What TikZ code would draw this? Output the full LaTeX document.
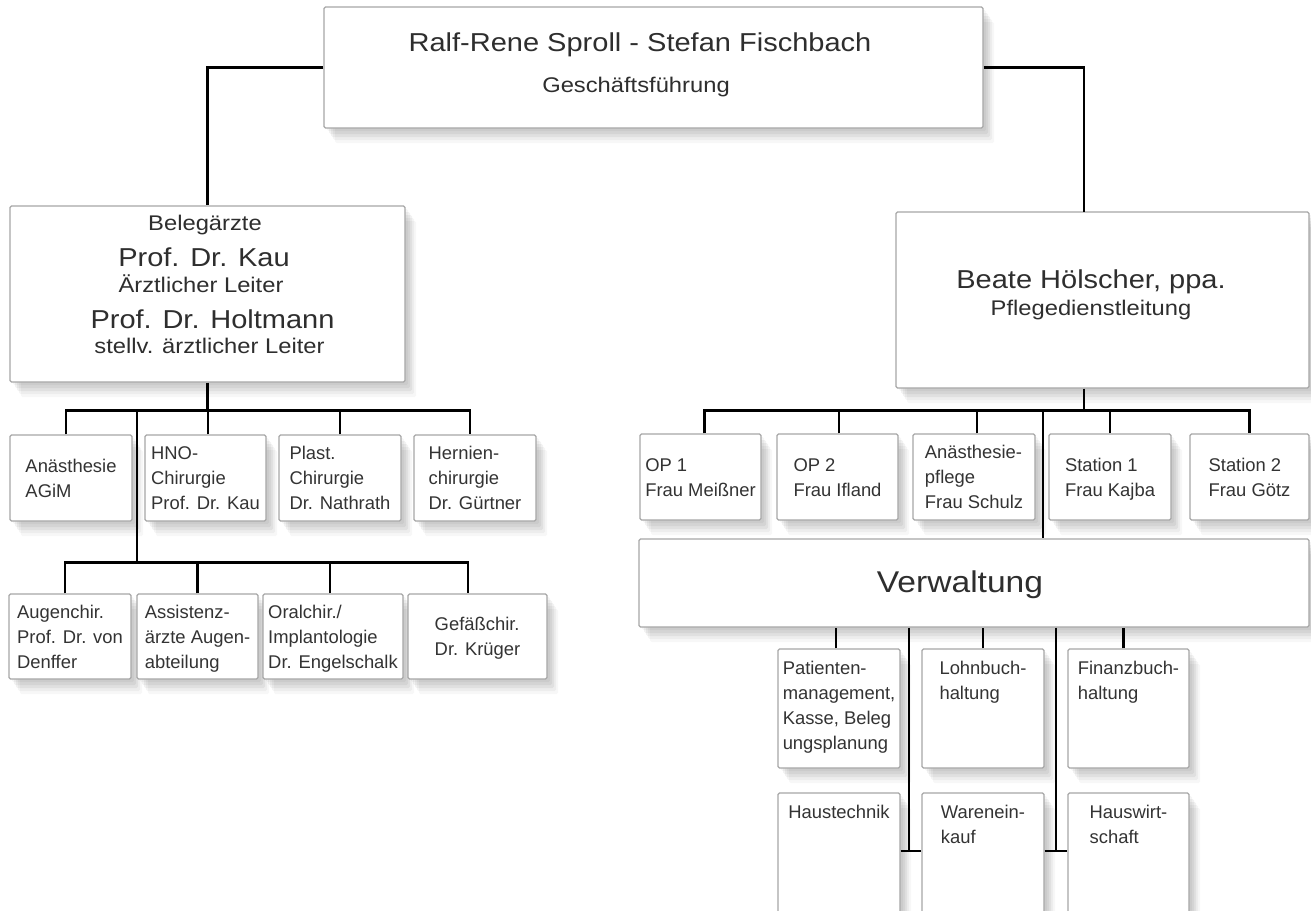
\documentclass[tikz,border=0pt]{standalone}
\usepackage{fontspec}
\setmainfont{Liberation Sans}
\newfontfamily\widefont[FakeStretch=1.12]{Liberation Sans}
\usetikzlibrary{shadows}
\newcommand\mylines[1]{\begin{tabular}{@{}l@{}}#1\end{tabular}}
\newcommand\mybox[6]{\node[box,minimum width={(#4)-(#2)},minimum height={(#5)-(#3)}] (#1) at ({((#2)+(#4))/2},{((#3)+(#5))/2}) {#6};}
\begin{document}
\begin{tikzpicture}[x=1pt,y=-1pt,
  shd/.style={drop shadow={shadow xshift=11pt,shadow yshift=-15pt,fill=black,opacity=0.03},
              drop shadow={shadow xshift=9pt,shadow yshift=-12pt,fill=black,opacity=0.04},
              drop shadow={shadow xshift=7pt,shadow yshift=-9pt,fill=black,opacity=0.05},
              drop shadow={shadow xshift=5pt,shadow yshift=-6pt,fill=black,opacity=0.05},
              drop shadow={shadow xshift=3pt,shadow yshift=-3pt,fill=black,opacity=0.04}},
  sml/.style={font=\fontsize{18.4}{25}\selectfont\setbox\strutbox\hbox{\vrule height 19pt depth 6pt width 0pt}},
  box/.style={rectangle,rounded corners=1.5pt,draw=black!35,line width=1.3pt,fill=white,inner sep=0pt,shd,sml,text=black!80},
  big/.style={font=\widefont\fontsize{25.9}{30}\selectfont,text=black!82,inner sep=0pt},
  mid/.style={font=\widefont\fontsize{21.2}{25}\selectfont,text=black!82,inner sep=0pt},
  huge/.style={font=\widefont\fontsize{30}{36}\selectfont,text=black!82,inner sep=0pt},
  toptext/.style={sml,text=black!80,inner sep=0pt,anchor=north},
  conn/.style={draw=black,line width=2.6pt}]
\path[use as bounding box,fill=white] (0,0) rectangle (1311,910);
\clip (0,0) rectangle (1311,910);

% ---- boxes ----
\mybox{top}{324}{7}{983}{128}{}
\node[big,anchor=base] (t1) at (640,51) {Ralf-Rene Sproll - Stefan Fischbach};
\node[mid,anchor=base] (t2) at (636,92) {Geschäftsführung};

\mybox{beleg}{10}{206}{405}{382}{}
\node[mid,anchor=base] (b1) at (205,230) {Belegärzte};
\node[big,anchor=base] (b2) at (204,266) {Prof. Dr. Kau};
\node[mid,anchor=base] (b3) at (201,292) {Ärztlicher Leiter};
\node[big,anchor=base] (b4) at (212.5,328) {Prof. Dr. Holtmann};
\node[mid,anchor=base] (b5) at (209.5,353) {stellv. ärztlicher Leiter};

\mybox{beate}{896}{212}{1309}{388}{}
\node[big,anchor=base] (p1) at (1091,288) {Beate Hölscher, ppa.};
\node[mid,anchor=base] (p2) at (1091,315) {Pflegedienstleitung};

\mybox{anae}{10}{435}{132}{521}{\mylines{Anästhesie\\AGiM}}
\mybox{hno}{145}{435}{266}{521}{\mylines{HNO-\\Chirurgie\\Prof. Dr. Kau}}
\mybox{plast}{279}{435}{401}{521}{\mylines{Plast.\\Chirurgie\\Dr. Nathrath}}
\mybox{hern}{414}{435}{536}{521}{\mylines{Hernien-\\chirurgie\\Dr. Gürtner}}

\mybox{auge}{9}{594}{131}{679}{\mylines{Augenchir.\\Prof. Dr. von\\Denffer}}
\mybox{assi}{137}{594}{258}{679}{\mylines{Assistenz-\\ärzte Augen-\\abteilung}}
\mybox{oral}{263}{594}{403}{679}{\mylines{Oralchir./\\Implantologie\\Dr. Engelschalk}}
\mybox{gefa}{408}{594}{547}{679}{\mylines{Gefäßchir.\\Dr. Krüger}}

\mybox{op1}{640}{434}{761}{520}{\mylines{OP 1\\Frau Meißner}}
\mybox{op2}{777}{434}{898}{520}{\mylines{OP 2\\Frau Ifland}}
\mybox{anp}{913}{434}{1035}{520}{\mylines{Anästhesie-\\pflege\\Frau Schulz}}
\mybox{st1}{1049}{434}{1171}{520}{\mylines{Station 1\\Frau Kajba}}
\mybox{st2}{1190}{434}{1309}{520}{\mylines{Station 2\\Frau Götz}}

\mybox{verw}{639}{539}{1309}{627}{}
\node[huge,anchor=base] (vt) at (960,592) {Verwaltung};

\mybox{pat}{778}{649}{900}{768}{}
\mybox{lohn}{922}{649}{1044}{768}{}
\mybox{fin}{1068}{649}{1189}{768}{}
\mybox{haus}{778}{793}{900}{950}{}
\mybox{ware}{922}{793}{1044}{950}{}
\mybox{hw}{1068}{793}{1189}{950}{}
\node[toptext] (patt) at ([yshift=-7pt]pat.north) {\mylines{Patienten-\\management,\\Kasse, Beleg\\ungsplanung}};
\node[toptext] (lohnt) at ([yshift=-7pt]lohn.north) {\mylines{Lohnbuch-\\haltung}};
\node[toptext] (fint) at ([yshift=-7pt]fin.north) {\mylines{Finanzbuch-\\haltung}};
\node[toptext] (haust) at ([yshift=-7pt]haus.north) {\mylines{Haustechnik}};
\node[toptext] (waret) at ([yshift=-7pt]ware.north) {\mylines{Warenein-\\kauf}};
\node[toptext] (hwt) at ([yshift=-7pt]hw.north) {\mylines{Hauswirt-\\schaft}};

% ---- connectors ----
\coordinate (rj) at (1084,212);
\coordinate (lv1) at (137,411);
\coordinate (lv2) at (137,563);
\coordinate (rv) at (1043,411);
\coordinate (tA) at (909,851);
\coordinate (tB) at (1056,851);

\draw[conn] (top.west) -| (beleg.north);
\draw[conn] (top.east) -| (rj);

\draw[conn] (beleg.south) -- ++(0,29);
\draw[conn] ([xshift=-5pt]anae.north) -- ++(0,-24) -| ([xshift=-5pt]hern.north);
\draw[conn] ([xshift=2.5pt]hno.north) -- ++(0,-24);
\draw[conn] (plast.north) -- ++(0,-24);
\draw[conn] (lv1) -- (lv2);
\draw[conn] ([xshift=-5pt]auge.north) -- ++(0,-31) -| ([xshift=-9.5pt]gefa.north);
\draw[conn] (assi.north) -- ++(0,-31);
\draw[conn] ([xshift=-3pt]oral.north) -- ++(0,-31);

\draw[conn] (beate.south -| rj) -- ++(0,23);
\draw[conn] ([xshift=4pt]op1.north) -- ++(0,-23) -| (st2.north);
\draw[conn] ([xshift=1.5pt]op2.north) -- ++(0,-23);
\draw[conn] ([xshift=3pt]anp.north) -- ++(0,-23);
\draw[conn] (st1.north) -- ++(0,-23);
\draw[conn] (rv) -- (rv |- verw.north);

\draw[conn] ([xshift=-3pt]pat.north) -- ([xshift=-3pt]pat.north |- verw.south);
\draw[conn] (lohn.north) -- (lohn.north |- verw.south);
\draw[conn] ([xshift=-5pt]fin.north) -- ([xshift=-5pt]fin.north |- verw.south);
\draw[conn] (tA |- verw.south) -- (tA);
\draw[conn] (tA -| haus.east) -- (tA -| ware.west);
\draw[conn] (tB |- verw.south) -- (tB);
\draw[conn] (tB -| ware.east) -- (tB -| hw.west);
\end{tikzpicture}
\end{document}
